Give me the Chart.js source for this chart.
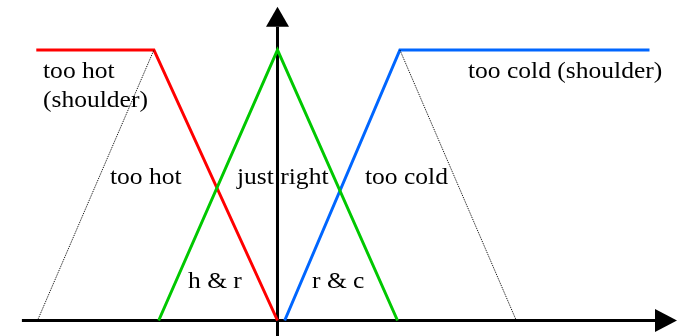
<!DOCTYPE html>
<html>
<head>
<meta charset="utf-8">
<script src="https://cdn.jsdelivr.net/npm/chart.js@4.4.1/dist/chart.umd.min.js"></script>
<style>
  html, body { margin: 0; padding: 0; background: #ffffff; }
  #wrap { position: relative; width: 677px; height: 336px; }
</style>
</head>
<body>
<div id="wrap"><canvas id="c"></canvas></div>
<script>
// ---- data (temperature offset vs. membership degree) ----
const tooHotShoulderX = [-20.1, -10.3, 0];
const tooHotShoulderY = [1, 1, 0];
const justRightX = [-9.9, 0, 10];
const justRightY = [0, 1, 0];
const tooColdShoulderX = [0.6, 10.2, 31.0];
const tooColdShoulderY = [0, 1, 1];
const tooHotDottedX = [-20, -10.3];
const tooHotDottedY = [0, 1];
const tooColdDottedX = [10.2, 19.9];
const tooColdDottedY = [1, 0];

const labelTexts = ["too hot", "(shoulder)", "too cold (shoulder)", "too hot", "just right", "too cold", "h & r", "r & c"];
const labelX = [-19.54, -19.54, 15.875, -13.96, -3.375, 7.29, -7.46, 2.875];
const labelY = [0.898, 0.791, 0.898, 0.5046, 0.5046, 0.5046, 0.120, 0.120];

// axis extents (data units)
const xAxisFrom = -21.3, xAxisTip = 33.29, xArrowBase = 31.46;
const yAxisFrom = -0.06, yAxisTip = 1.160, yArrowBase = 1.086;

function pts(xs, ys) { return xs.map((x, i) => ({ x: x, y: ys[i] })); }

const axesPlugin = {
  id: 'axesPlugin',
  beforeDatasetsDraw(chart) {
    const ctx = chart.ctx, xs = chart.scales.x, ys = chart.scales.y;
    const x0 = xs.getPixelForValue(0), y0 = ys.getPixelForValue(0);
    ctx.save();
    ctx.strokeStyle = '#000'; ctx.fillStyle = '#000'; ctx.lineWidth = 3;
    // horizontal axis
    ctx.beginPath();
    ctx.moveTo(xs.getPixelForValue(xAxisFrom), y0);
    ctx.lineTo(xs.getPixelForValue(xArrowBase), y0);
    ctx.stroke();
    const hb = xs.getPixelForValue(xArrowBase), ht = xs.getPixelForValue(xAxisTip);
    ctx.beginPath();
    ctx.moveTo(ht, y0); ctx.lineTo(hb, y0 - 11.5); ctx.lineTo(hb, y0 + 11.5); ctx.closePath(); ctx.fill();
    // vertical axis
    ctx.beginPath();
    ctx.moveTo(x0, ys.getPixelForValue(yAxisFrom));
    ctx.lineTo(x0, ys.getPixelForValue(yArrowBase));
    ctx.stroke();
    const vb = ys.getPixelForValue(yArrowBase), vt = ys.getPixelForValue(yAxisTip);
    ctx.beginPath();
    ctx.moveTo(x0, vt); ctx.lineTo(x0 - 11.5, vb); ctx.lineTo(x0 + 11.5, vb); ctx.closePath(); ctx.fill();
    ctx.restore();
  },
  afterDatasetsDraw(chart) {
    const ctx = chart.ctx, xs = chart.scales.x, ys = chart.scales.y;
    ctx.save();
    ctx.fillStyle = '#000';
    ctx.font = '23px "Liberation Serif", "Times New Roman", serif';
    ctx.textAlign = 'left'; ctx.textBaseline = 'alphabetic';
    labelTexts.forEach((t, i) => {
      ctx.save();
      ctx.translate(xs.getPixelForValue(labelX[i]), ys.getPixelForValue(labelY[i]));
      ctx.scale(1.11, 1);
      ctx.fillText(t, 0, 0);
      ctx.restore();
    });
    ctx.restore();
  }
};

new Chart(document.getElementById('c'), {
  type: 'scatter',
  data: {
    datasets: [
      { data: pts(tooHotDottedX, tooHotDottedY), borderColor: '#000', borderWidth: 1, borderDash: [1, 1] },
      { data: pts(tooColdDottedX, tooColdDottedY), borderColor: '#000', borderWidth: 1, borderDash: [1, 1] },
      { data: pts(justRightX, justRightY), borderColor: '#00c800', borderWidth: 3 },
      { data: pts(tooColdShoulderX, tooColdShoulderY), borderColor: '#0066ff', borderWidth: 3 },
      { data: pts(tooHotShoulderX, tooHotShoulderY), borderColor: '#ff0000', borderWidth: 3 }
    ].map(d => Object.assign({ showLine: true, pointRadius: 0, tension: 0, fill: false, borderJoinStyle: 'miter' }, d))
  },
  options: {
    responsive: true,
    maintainAspectRatio: false,
    animation: false,
    layout: { padding: 0 },
    plugins: { legend: { display: false }, tooltip: { enabled: false } },
    scales: {
      x: { type: 'linear', display: false, min: -23.125, max: 33.2917 },
      y: { type: 'linear', display: false, min: -0.0573, max: 1.1848 }
    }
  },
  plugins: [axesPlugin]
});
</script>
</body>
</html>
